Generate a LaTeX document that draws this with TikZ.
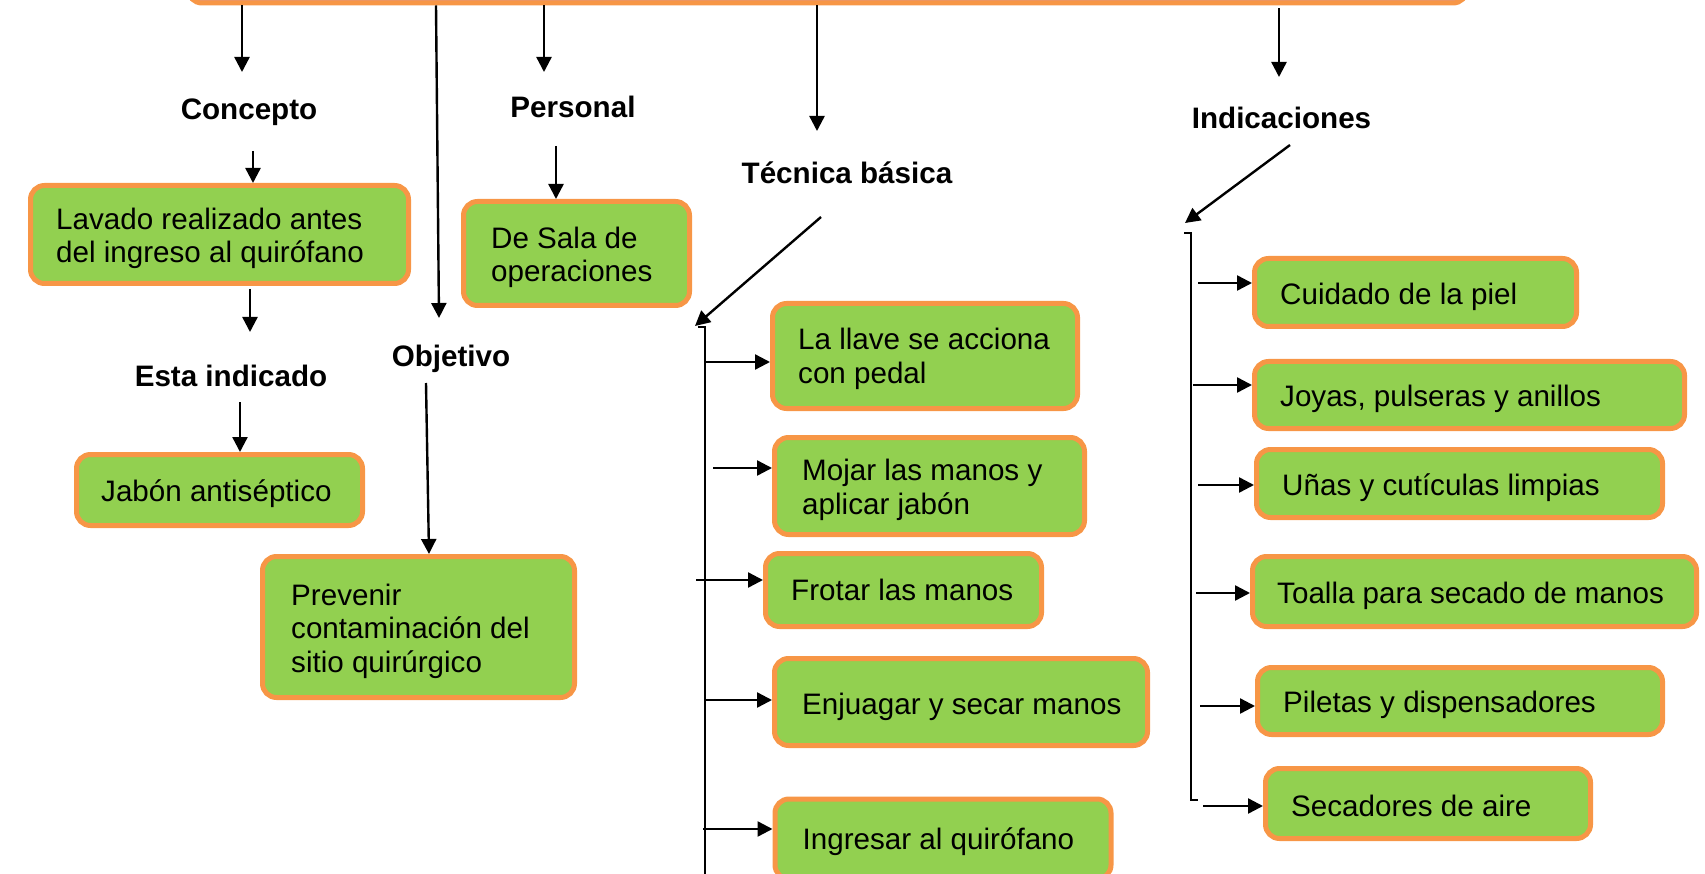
\documentclass[tikz,border=0pt]{standalone}
\usepackage{fontspec}
\setmainfont{Liberation Sans}
\usetikzlibrary{arrows.meta}
\definecolor{boxgreen}{HTML}{92D050}
\definecolor{boxorange}{HTML}{F79646}
\definecolor{toppink}{HTML}{D99594}
% #1 name, #2 centre, #3 width, #4 height, #5 text indent, #6 vertical shift, #7 text
\newcommand\greenbox[7]{%
  \node[box, minimum width=#3, minimum height=#4] (#1) at #2 {};
  \node[txt, anchor=west] (#1-t) at ([xshift={#5+2.5pt}, yshift=#6]#1.west) {#7};
}
\begin{document}
\begin{tikzpicture}[x=1pt,y=-1pt,
  every node/.style={font=\fontsize{29.6}{33.5}\selectfont},
  box/.style={draw=boxorange, fill=boxgreen, line width=5pt, rounded corners=14pt, inner sep=0pt},
  txt/.style={align=left, inner sep=0pt},
  lbl/.style={font=\fontsize{29.6}{33.5}\selectfont\bfseries, inner sep=0pt},
  arr/.style={line width=2.4pt, -{Triangle[length=15pt,width=15pt]}},
  ln/.style={line width=2.4pt}]
\useasboundingbox (0,0) rectangle (1705,874);
% top box
\node[draw=boxorange, fill=toppink, line width=5pt, rounded corners=14pt,
  minimum width=1279pt, minimum height=60pt, inner sep=0pt, anchor=south west]
  (top) at (185.5,5.5) {};
% labels
\node[lbl] (concepto) at (249,112) {Concepto};
\node[lbl] (personal) at (573,107) {Personal};
\node[lbl] (tecnica) at (847,173) {Técnica básica};
\node[lbl] (indic) at (1281.5,118) {Indicaciones};
\node[lbl] (esta) at (231,376) {Esta indicado};
\node[lbl] (objetivo) at (451,359) {Objetivo};
% boxes
\greenbox{lavado}{(219.5,234.5)}{378pt}{98pt}{25.5pt}{-4pt}{Lavado realizado antes\\del ingreso al quirófano}
\greenbox{sala}{(576.5,253.5)}{226pt}{104pt}{27.5pt}{-4pt}{De Sala de\\operaciones}
\greenbox{jabon}{(219.5,490)}{286pt}{71pt}{24.5pt}{-4pt}{Jabón antiséptico}
\greenbox{prevenir}{(418.5,627)}{312pt}{141pt}{28.5pt}{-4pt}{Prevenir\\contaminación del\\sitio quirúrgico}
\greenbox{llave}{(925,356)}{305pt}{105pt}{25.5pt}{-3pt}{La llave se acciona\\con pedal}
\greenbox{mojar}{(929.5,486)}{310pt}{97pt}{27.5pt}{-4pt}{Mojar las manos y\\aplicar jabón}
\greenbox{frotar}{(903.5,590)}{276pt}{73pt}{25.5pt}{0pt}{Frotar las manos}
\greenbox{enjuagar}{(961,702)}{373pt}{87pt}{27.5pt}{-5pt}{Enjuagar y secar manos}
\greenbox{ingresar}{(943,839)}{336pt}{80pt}{27.5pt}{-3pt}{Ingresar al quirófano}
\greenbox{cuidado}{(1415.5,292.5)}{322pt}{68pt}{25.5pt}{-4pt}{Cuidado de la piel}
\greenbox{joyas}{(1469.5,395)}{430pt}{67pt}{25.5pt}{-4pt}{Joyas, pulseras y anillos}
\greenbox{unas}{(1459.5,483.5)}{406pt}{68pt}{25.5pt}{-4pt}{Uñas y cutículas limpias}
\greenbox{toalla}{(1474.5,591.5)}{444pt}{70pt}{24.5pt}{-4pt}{Toalla para secado de manos}
\greenbox{piletas}{(1460,701)}{405pt}{67pt}{25.5pt}{-4pt}{Piletas y dispensadores}
\greenbox{secadores}{(1428,803.5)}{325pt}{70pt}{25.5pt}{-2pt}{Secadores de aire}
% free-end coordinates
\coordinate (cA) at (242,72);
\coordinate (cB) at (439,318);
\coordinate (cC) at (544,72);
\coordinate (cD) at (817,131);
\coordinate (cE) at (1279,77);
\coordinate (tdiagS) at (821,217);
\coordinate (tbr) at (695,326);
\coordinate (idiagS) at (1290,145);
\coordinate (ibr) at (1185,223);
% from top box
\draw[arr] (top.south -| cA) -- (cA);
\draw[arr] (top.south -| 436,0) -- (cB);
\draw[arr] (top.south -| cC) -- (cC);
\draw[arr] (top.south -| cD) -- (cD);
\draw[arr] ([yshift=-3pt]top.south -| cE) -- (cE);
% left column
\draw[arr] (253,151) -- (lavado.north -| 253,0);
\draw[arr] (lavado.south -| 250,0) ++(0,3) -- (250,332);
\draw[arr] (240,402) -- (jabon.north -| 240,0);
\draw[arr] (556,146) -- (sala.north -| 556,0);
\draw[arr] (426,383) -- (prevenir.north -| 429,0);
% tecnica
\draw[arr] (tdiagS) -- (tbr);
\draw[ln] (698,327) -- (705,327) -- (705,880);
\draw[arr] (705,362) -- (llave.west |- 0,362);
\draw[arr] (713,468) -- (mojar.west |- 0,468);
\draw[arr] (696,580) -- (frotar.west |- 0,580);
\draw[arr] (705,700) -- (enjuagar.west |- 0,700);
\draw[arr] (703,829) -- (ingresar.west |- 0,829);
% indicaciones
\draw[arr] (idiagS) -- (ibr);
\draw[ln] (1184,233) -- (1191,233) -- (1191,800) -- (1198,800);
\draw[arr] (1198,283) -- (cuidado.west |- 0,283);
\draw[arr] (1193,385) -- (joyas.west |- 0,385);
\draw[arr] (1198,485) -- (unas.west |- 0,485);
\draw[arr] (1196,593) -- (toalla.west |- 0,593);
\draw[arr] (1200,706) -- (piletas.west |- 0,706);
\draw[arr] (1203,806) -- (secadores.west |- 0,806);
\end{tikzpicture}
\end{document}
